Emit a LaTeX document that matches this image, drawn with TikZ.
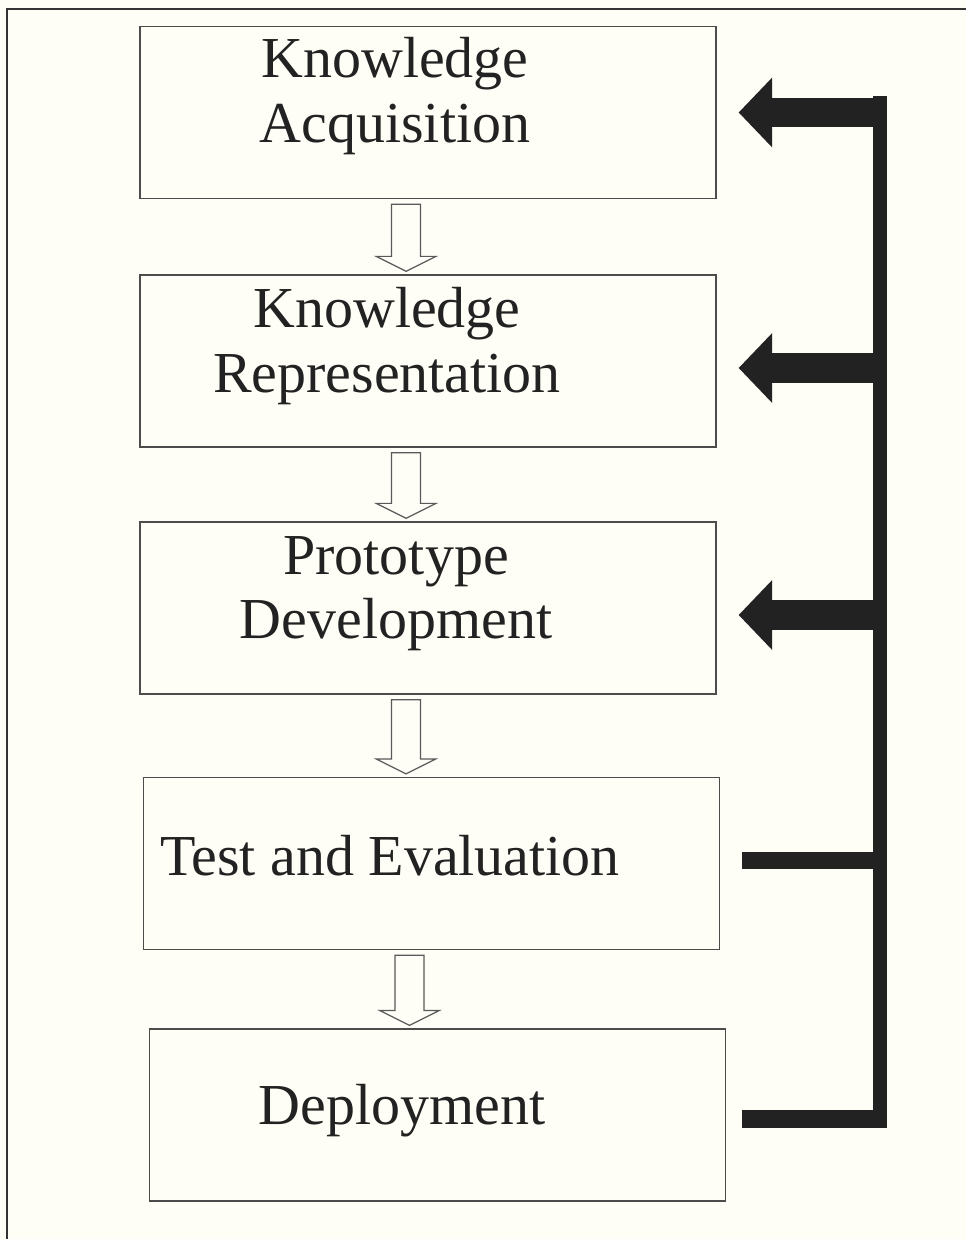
\documentclass[tikz,border=0pt]{standalone}
\usepackage{fontspec}
\setmainfont{Liberation Serif}
\usetikzlibrary{calc,arrows.meta}

\definecolor{paper}{RGB}{254,254,247}
\definecolor{ink}{RGB}{34,34,34}

\tikzset{
  stage/.style={draw=black!70,line width=0.8pt,fill=paper,minimum width=11.52cm,minimum height=3.44cm,inner sep=0pt},
  stagetext/.style={font=\fontsize{33}{36.5}\selectfont,align=center,inner sep=0pt,text=ink},
  hollow/.style={draw=black!65,line width=0.7pt,fill=paper,line join=miter},
  fbarrow/.style={ink,line width=17pt,-{Triangle[length=19pt,width=38.5pt]}},
  fbline/.style={ink,line width=10pt},
  fbbar/.style={ink,line width=8.5pt}
}

\newcommand\hollowdown[2]{%
  \draw[hollow] let \p1=($(#1.south)+(-22,5)$), \p2=($(#2.north)+(-22,-3)$) in
    (\x1-8.2pt,\y1) -- (\x1+8.2pt,\y1) -- (\x1+8.2pt,\y2+8.5pt) -- (\x1+17pt,\y2+8.5pt)
    -- (\x1,\y2) -- (\x1-17pt,\y2+8.5pt) -- (\x1-8.2pt,\y2+8.5pt) -- cycle;}

\begin{document}
\begin{tikzpicture}[x=0.02cm,y=-0.02cm]

\fill[paper] (0,0) rectangle (966,1239);
\useasboundingbox (0,0) rectangle (966,1239);
\draw[line width=1.1pt,black!80] (7,1239) -- (7,9) -- (966,9);

% the stages
\node[stage] (ka) at (428,112.5) {};
\node[stage] (kr) at (428,361) {};
\node[stage] (pd) at (428,608) {};
\node[stage] (te) at (431.5,863.5) {};
\node[stage] (dep) at (437.5,1115) {};

\node[stagetext] (kalabel) at (395,96) {Knowledge\\Acquisition};
\node[stagetext] (krlabel) at (387,346) {Knowledge\\Representation};
\node[stagetext] (pdlabel) at (396,594) {Prototype\\Development};
\node[stagetext] (telabel) at (390,856) {Test and Evaluation};
\node[stagetext] (deplabel) at (402,1111) {Deployment};

\hollowdown{ka}{kr}
\hollowdown{kr}{pd}
\hollowdown{pd}{te}
\hollowdown{te}{dep}

% feedback
\coordinate (bartop) at (880,96);
\coordinate (barbot) at (880,1128);
\draw[fbbar] (bartop) -- (barbot);
\draw[fbarrow] (ka.east -| bartop) -- ($(ka.east)+(22,0)$);
\draw[fbarrow] ($(kr.east -| bartop)+(0,7)$) -- ($(kr.east)+(22,7)$);
\draw[fbarrow] ($(pd.east -| bartop)+(0,7)$) -- ($(pd.east)+(22,7)$);
\draw[fbline] ($(te.east)+(22,-3)$) -- ($(te.east -| bartop)+(0,-3)$);
\draw[fbline] ($(dep.east)+(16,4)$) -- ($(dep.east -| barbot)+(7,4)$);

\end{tikzpicture}
\end{document}
